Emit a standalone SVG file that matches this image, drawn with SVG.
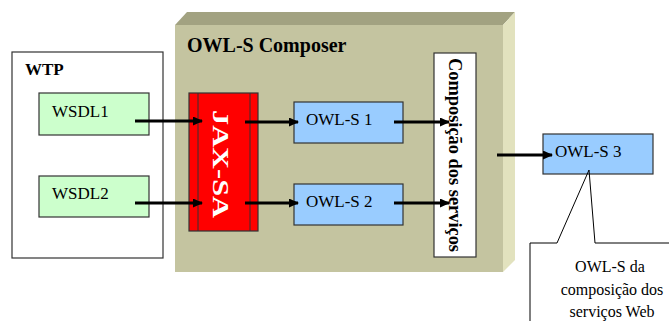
<svg xmlns="http://www.w3.org/2000/svg" width="669" height="321" viewBox="0 0 669 321">
<style>
text{font-family:"Liberation Serif","Times New Roman",Times,serif;fill:#000}
.b{font-weight:bold}
.box{stroke:#333;stroke-width:1.2}
.conn{stroke:#000;stroke-width:3;fill:none}
</style>
<defs>
<marker id="ah" markerWidth="10" markerHeight="9" refX="9" refY="4.5" orient="auto" markerUnits="userSpaceOnUse">
<path d="M0,0 L10,4.5 L0,9 Z" fill="#000"/>
</marker>
</defs>
<rect width="669" height="321" fill="#fff"/>
<g id="composer">
<polygon points="175,25 187,12 515,12 503,25" fill="#a2a281"/>
<polygon points="503,25 515,12 515,260 503,272" fill="#e2e2be"/>
<rect x="175" y="25" width="328" height="247" fill="#c4c4a0"/>
<text class="b" x="187" y="52" font-size="20">OWL-S Composer</text>
</g>
<g id="wtp">
<rect class="box" x="12" y="52" width="151" height="206" fill="#fff"/>
<text class="b" x="25" y="75" font-size="17">WTP</text>
</g>
<g id="wsdl1">
<rect class="box" x="39" y="93" width="110" height="42" fill="#ccffcc"/>
<text x="52" y="117" font-size="17">WSDL1</text>
</g>
<g id="wsdl2">
<rect class="box" x="39" y="176" width="110" height="41" fill="#ccffcc"/>
<text x="52" y="199" font-size="17">WSDL2</text>
</g>
<g id="jaxsa">
<rect class="box" x="189" y="93" width="69" height="138" fill="#ff0000"/>
<line x1="198" y1="93" x2="198" y2="231" stroke="#333" stroke-width="1"/>
<line x1="250" y1="93" x2="250" y2="231" stroke="#333" stroke-width="1"/>
<text class="b" x="0" y="0" font-size="24" style="fill:#fff" text-anchor="middle" textLength="108" lengthAdjust="spacingAndGlyphs" transform="translate(213,164) rotate(90)">JAX-SA</text>
</g>
<g id="owls1">
<rect class="box" x="294" y="102" width="109" height="41" fill="#99ccff"/>
<text x="306" y="125" font-size="17">OWL-S 1</text>
</g>
<g id="owls2">
<rect class="box" x="294" y="184" width="109" height="41" fill="#99ccff"/>
<text x="306" y="207" font-size="17">OWL-S 2</text>
</g>
<g id="composicao">
<rect class="box" x="434" y="53" width="42" height="204" fill="#fff"/>
<text class="b" x="0" y="0" font-size="18" text-anchor="middle" textLength="194" lengthAdjust="spacingAndGlyphs" transform="translate(449,155) rotate(90)">Composição dos serviços</text>
</g>
<g id="owls3">
<rect class="box" x="543" y="134" width="110" height="40" fill="#99ccff"/>
<text x="555" y="157" font-size="17">OWL-S 3</text>
</g>
<g id="callout">
<path d="M557,243 L530,243 L530,321 M595,243 L669,243" stroke="#000" stroke-width="1" fill="none"/>
<path d="M557,243 L589,170 L595,243" stroke="#000" stroke-width="1" fill="none"/>
<text x="610" y="272" font-size="16" text-anchor="middle">OWL-S da</text>
<text x="612" y="295" font-size="16" text-anchor="middle">composição dos</text>
<text x="612" y="317" font-size="16" text-anchor="middle">serviços Web</text>
</g>
<g id="connectors">
<line class="conn" x1="135" y1="121" x2="202" y2="121" marker-end="url(#ah)"/>
<line class="conn" x1="135" y1="203" x2="202" y2="203" marker-end="url(#ah)"/>
<line class="conn" x1="245" y1="122" x2="298" y2="122" marker-end="url(#ah)"/>
<line class="conn" x1="245" y1="203" x2="298" y2="203" marker-end="url(#ah)"/>
<line class="conn" x1="394" y1="122" x2="449" y2="122" marker-end="url(#ah)"/>
<line class="conn" x1="394" y1="203" x2="449" y2="203" marker-end="url(#ah)"/>
<line class="conn" x1="497" y1="155" x2="552" y2="155" marker-end="url(#ah)"/>
</g>
</svg>
